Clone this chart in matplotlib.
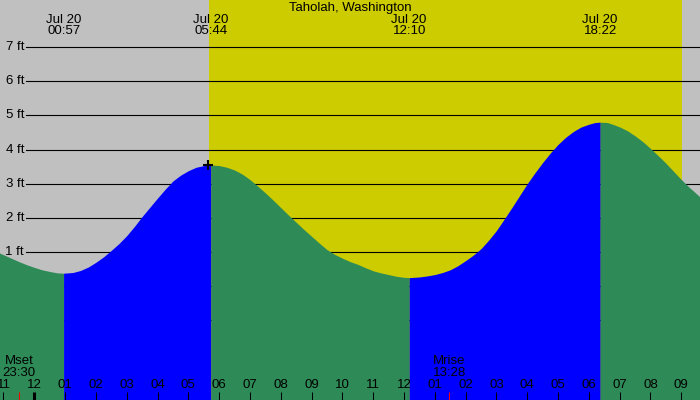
import matplotlib
matplotlib.use("Agg")
import matplotlib.pyplot as plt
import numpy as np

plt.rcParams["font.family"] = ["Liberation Sans", "DejaVu Sans"]

# DATA (hours since Jul 20 00:00, heights in ft)
tide_hours = [-1.2, -1.0, -0.75, -0.5, -0.25, 0.0, 0.25, 0.5, 0.75, 0.95,
              1.25, 1.5, 1.75, 2.0, 2.25, 2.5, 2.75, 3.0, 3.25, 3.5, 3.75, 4.0,
              4.25, 4.5, 4.75, 5.0, 5.25, 5.5, 5.733,
              6.0, 6.25, 6.5, 6.75, 7.0, 7.25, 7.5, 7.75, 8.0, 8.25, 8.5, 8.75,
              9.0, 9.25, 9.5, 9.75, 10.0, 10.25, 10.5, 10.75, 11.0, 11.25, 11.5,
              11.75, 12.0, 12.167,
              12.5, 12.75, 13.0, 13.25, 13.5, 13.75, 14.0, 14.25, 14.5, 14.75,
              15.0, 15.25, 15.5, 15.75, 16.0, 16.25, 16.5, 16.75, 17.0, 17.25,
              17.5, 17.75, 18.0, 18.2, 18.367,
              18.6, 18.8, 19.0, 19.25, 19.5, 19.75, 20.0, 20.25, 20.5, 20.75,
              21.0, 21.25, 21.5, 21.8]
tide_ft = [1.00, 0.92, 0.82, 0.72, 0.63, 0.55, 0.48, 0.43, 0.39, 0.38,
           0.40, 0.46, 0.56, 0.70, 0.86, 1.05, 1.25, 1.48, 1.75, 2.04, 2.31, 2.58,
           2.84, 3.08, 3.25, 3.38, 3.48, 3.53, 3.55,
           3.53, 3.48, 3.40, 3.28, 3.12, 2.93, 2.73, 2.52, 2.30, 2.08, 1.87, 1.66,
           1.46, 1.26, 1.07, 0.93, 0.82, 0.72, 0.64, 0.54, 0.45, 0.39, 0.34,
           0.29, 0.26, 0.25,
           0.27, 0.30, 0.34, 0.40, 0.48, 0.60, 0.75, 0.91, 1.10, 1.35,
           1.63, 1.96, 2.30, 2.65, 3.00, 3.32, 3.62, 3.90, 4.15, 4.36,
           4.53, 4.66, 4.74, 4.79, 4.80,
           4.79, 4.73, 4.66, 4.55, 4.40, 4.23, 4.03, 3.82, 3.60, 3.36,
           3.12, 2.90, 2.70, 2.45]

extreme_hours = [0.95, 5.733, 12.167, 18.367]
extreme_labels = ["00:57", "05:44", "12:10", "18:22"]
extreme_date = "Jul 20"

sunrise, sunset = 5.67, 21.01
moon_hours = [-0.5, 13.467]
moon_labels = ["Mset\n23:30", "Mrise\n13:28"]
marker_hour, marker_ft = 5.65, 3.55

hour_ticks = list(range(-1, 22))
ft_levels = [-1, 0, 1, 2, 3, 4, 5, 6, 7]

GREY = "#c0c0c0"
YELLOW = "#cccc00"
GREEN = "#2e8b57"
BLUE = "#0000ff"
FS = 9.5

W, H = 700, 400
fig = plt.figure(figsize=(7, 4), dpi=100)
ax = fig.add_axes([0, 0, 1, 1])
ax.set_facecolor(GREY)
for s in ax.spines.values():
    s.set_visible(False)
ax.set_xticks([])
ax.set_yticks([])

px_per_hr = 30.81
x0 = 34.3  # pixel of midnight
px_per_ft = 34.17
y0 = 286.2  # pixel of 0 ft
ax.set_xlim(-x0 / px_per_hr, (W - x0) / px_per_hr)
ax.set_ylim((y0 - H) / px_per_ft, y0 / px_per_ft)
bottom = (y0 - H) / px_per_ft

# daylight
ax.axvspan(sunrise, sunset, color=YELLOW, lw=0, zorder=0)

# grid lines + labels
for lv in ft_levels:
    ax.axhline(lv, xmin=26 / W, xmax=1, color="black", lw=0.8, zorder=1)
    ax.text(24 / W, lv, f"{lv} ft", transform=ax.get_yaxis_transform(),
            ha="right", va="center", fontsize=FS, zorder=1)

# tide fill, split at the extremes
t = np.array(tide_hours)
h = np.array(tide_ft)
bounds = [t[0]] + extreme_hours + [t[-1]]
first_rising = h[1] > h[0]
for i in range(len(bounds) - 1):
    m = (t >= bounds[i] - 1e-6) & (t <= bounds[i + 1] + 1e-6)
    rising = (i % 2 == 0) == first_rising
    ax.fill_between(t[m], h[m], bottom, color=BLUE if rising else GREEN,
                    lw=0, zorder=2)

ax.plot(marker_hour, marker_ft, marker="+", ms=7, mew=1.5, color="black", zorder=4)

# title and extreme labels
ax.text(0.5, 1 - 8 / H, "Taholah, Washington", transform=ax.transAxes,
        ha="center", va="center", fontsize=FS, zorder=5)
xt = ax.get_xaxis_transform()
for eh, lab in zip(extreme_hours, extreme_labels):
    ax.text(eh, 1 - 20 / H, extreme_date, transform=xt, ha="center", va="center",
            fontsize=FS, zorder=5)
    ax.text(eh, 1 - 31.5 / H, lab, transform=xt, ha="center", va="center",
            fontsize=FS, zorder=5)

# hour ticks
for hr in hour_ticks:
    lw = 2.2 if hr % 24 == 0 else 0.75
    ax.plot([hr, hr], [0, 8 / H], transform=xt, color="black", lw=lw,
            solid_capstyle="butt", zorder=5)
    ax.text(hr, 15 / H, f"{(hr - 1) % 12 + 1:02d}", transform=xt,
            ha="center", va="center", fontsize=FS, zorder=5)

# moon
for mh, lab in zip(moon_hours, moon_labels):
    ax.plot([mh, mh], [0, 8 / H], transform=xt, color="red", lw=0.75,
            solid_capstyle="butt", zorder=5)
    ax.text(mh, 32.5 / H, lab, transform=xt, ha="center", va="center",
            fontsize=FS, linespacing=1.0, zorder=5)

fig.savefig("out.png", dpi=100)
